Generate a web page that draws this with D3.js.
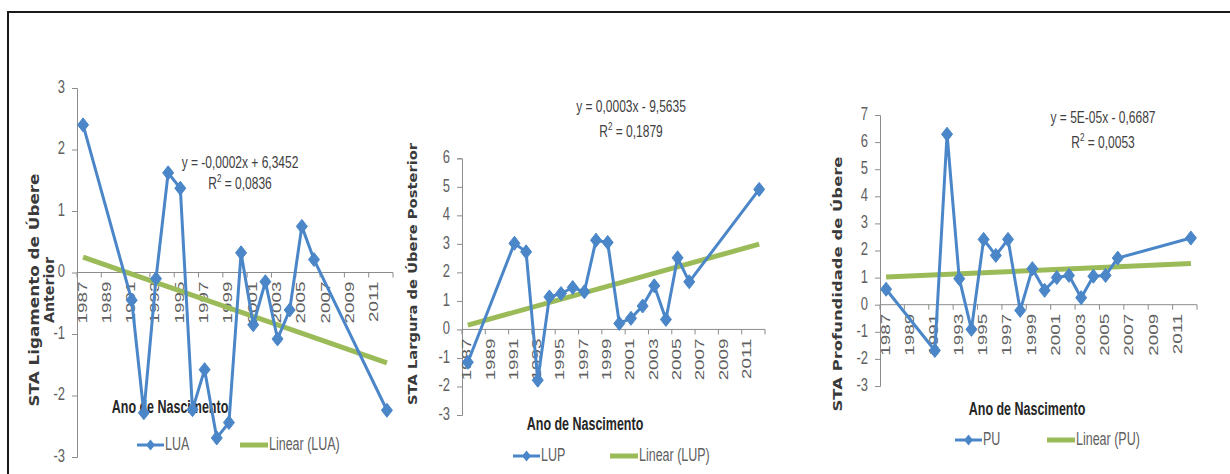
<!DOCTYPE html>
<html>
<head>
<meta charset="utf-8">
<script src="https://cdn.jsdelivr.net/npm/d3@7"></script>
<style>
  body { margin: 0; background: #fff; }
  svg { display: block; }
  .narrow { font-family: "Liberation Sans Narrow", "Arial Narrow", "Liberation Sans", sans-serif; }
</style>
</head>
<body>
<svg width="1230" height="474"></svg>
<script>
// categories (birth years) and tick labels
var years = [1987, 1988, 1989, 1990, 1991, 1992, 1993, 1994, 1995, 1996, 1997, 1998, 1999,
             2000, 2001, 2002, 2003, 2004, 2005, 2006, 2007, 2008, 2009, 2010, 2011, 2012];
var yearLabels = [1987, 1989, 1991, 1993, 1995, 1997, 1999, 2001, 2003, 2005, 2007, 2009, 2011];

// series values (null = no animal that year)
var LUA = [2.40, null, null, null, -0.45, -2.28, -0.10, 1.62, 1.37, -2.23, -1.58, -2.69, -2.44,
           0.32, -0.85, -0.15, -1.08, -0.61, 0.75, 0.21, null, null, null, null, null, -2.24];
var LUP = [-1.15, null, null, null, 3.02, 2.72, -1.78, 1.14, 1.26, 1.47, 1.32, 3.13, 3.05,
           0.21, 0.39, 0.82, 1.53, 0.35, 2.51, 1.67, null, null, null, null, null, 4.91];
var PU  = [0.57, null, null, null, -1.69, 6.29, 0.96, -0.91, 2.41, 1.82, 2.41, -0.21, 1.33,
           0.53, 1.00, 1.08, 0.26, 1.05, 1.08, 1.72, null, null, null, null, null, 2.46];

// linear trend values at first and last year
var trendYears = [1987, 2012];
var trendLUA = [0.25, -1.47];
var trendLUP = [0.15, 2.99];
var trendPU  = [1.02, 1.52];

var ticksLUA = [-3, -2, -1, 0, 1, 2, 3];
var ticksLUP = [-3, -2, -1, 0, 1, 2, 3, 4, 5, 6];
var ticksPU  = [-3, -2, -1, 0, 1, 2, 3, 4, 5, 6, 7];

var BLUE = '#4a86c8', GREEN = '#9bbb59', AXIS = '#8c8c8c', LABEL = '#606060';
var SY = 1.45; // picture is stretched vertically

var svg = d3.select('svg');

// frame
svg.append('path')
    .attr('d', 'M8,474 L8,12 L1230,12')
    .attr('fill', 'none')
    .attr('stroke', '#1a1a1a')
    .attr('stroke-width', 2);

function stretchedText(g, x, y, txt, size, rotate) {
    return g.append('text')
        .attr('class', 'narrow')
        .attr('transform', 'translate(' + x + ',' + y + ') scale(1,' + SY + ')' + (rotate ? ' rotate(-90)' : ''))
        .attr('font-size', size)
        .attr('fill', LABEL)
        .text(txt);
}

var diamond = 'M0,-7 L5.5,0 L0,7 L-5.5,0 Z';

function drawPanel(p) {
    var g = svg.append('g');

    var x = d3.scaleBand().domain(years).range([p.x0, p.x1]).padding(0);
    var y = d3.scaleLinear().domain([p.ticks[0], p.ticks[p.ticks.length - 1]]).range([p.yBottom, p.yTop]);

    // y axis
    var yAxis = d3.axisLeft(y).tickValues(p.ticks).tickSize(5).tickFormat('');
    var ya = g.append('g').attr('transform', 'translate(' + p.x0 + ',0)').call(yAxis);
    ya.selectAll('path, line').attr('stroke', AXIS);
    p.ticks.forEach(function(t) {
        stretchedText(g, p.x0 - 12, y(t), t, 13, false)
            .attr('text-anchor', 'end')
            .attr('dominant-baseline', 'middle');
    });

    // x axis on zero line, ticks between every second category
    var zeroY = y(0);
    g.append('line')
        .attr('x1', p.x0).attr('x2', p.x1)
        .attr('y1', zeroY).attr('y2', zeroY)
        .attr('stroke', AXIS);
    var tickYears = years.filter(function(d, i) { return i % 2 === 0; });
    g.selectAll('.xt').data(tickYears).enter().append('line')
        .attr('x1', function(d) { return x(d); })
        .attr('x2', function(d) { return x(d); })
        .attr('y1', zeroY).attr('y2', zeroY + 5)
        .attr('stroke', AXIS);
    g.append('line')
        .attr('x1', p.x1).attr('x2', p.x1)
        .attr('y1', zeroY).attr('y2', zeroY + 5)
        .attr('stroke', AXIS);
    yearLabels.forEach(function(yr) {
        stretchedText(g, x(yr) + x.bandwidth() / 2, zeroY + 9, yr, 13, true)
            .attr('text-anchor', 'end')
            .attr('dominant-baseline', 'middle');
    });

    // axis titles
    p.title.forEach(function(t) {
        g.append('text')
            .attr('transform', 'translate(' + t.x + ',' + t.y + ') rotate(-90)')
            .attr('text-anchor', 'middle')
            .attr('dominant-baseline', 'middle')
            .attr('font-family', 'DejaVu Sans')
            .attr('font-weight', 'bold')
            .attr('font-size', t.size)
            .attr('fill', '#3a3a3a')
            .attr('textLength', t.len)
            .attr('lengthAdjust', 'spacingAndGlyphs')
            .text(t.text);
    });
    stretchedText(g, p.xTitle[0], p.xTitle[1], 'Ano de Nascimento', 12.5, false)
        .attr('text-anchor', 'middle')
        .attr('dominant-baseline', 'middle')
        .attr('font-weight', 'bold')
        .attr('fill', '#262626');

    // trend line
    var trendData = trendYears.map(function(yr, i) { return { yr: yr, v: p.trend[i] }; });
    var line = d3.line()
        .x(function(d) { return x(d.yr) + x.bandwidth() / 2; })
        .y(function(d) { return y(d.v); });
    g.append('path')
        .datum(trendData)
        .attr('d', line)
        .attr('fill', 'none')
        .attr('stroke', GREEN)
        .attr('stroke-width', 5);

    // series line + markers (gaps are bridged)
    var pts = years.map(function(yr, i) { return { yr: yr, v: p.values[i] }; })
        .filter(function(d) { return d.v !== null; });
    g.append('path')
        .datum(pts)
        .attr('d', line)
        .attr('fill', 'none')
        .attr('stroke', BLUE)
        .attr('stroke-width', 3)
        .attr('stroke-linejoin', 'round');
    g.selectAll('.mk').data(pts).enter().append('path')
        .attr('d', diamond)
        .attr('transform', function(d) { return 'translate(' + (x(d.yr) + x.bandwidth() / 2) + ',' + y(d.v) + ')'; })
        .attr('fill', BLUE)
        .attr('stroke', BLUE)
        .attr('stroke-width', 1);

    // equation
    stretchedText(g, p.eq[0], p.eq[1], p.eqText, 12, false)
        .attr('text-anchor', 'middle')
        .attr('dominant-baseline', 'middle')
        .attr('fill', '#404040');
    var r2 = stretchedText(g, p.eq[0], p.eq[1] + p.eqGap, 'R', 12, false)
        .attr('text-anchor', 'middle')
        .attr('dominant-baseline', 'middle')
        .attr('fill', '#404040');
    r2.append('tspan').attr('font-size', 8).attr('dy', -4).text('2');
    r2.append('tspan').attr('dy', 4).text(' = ' + p.r2);

    // legend
    var lg = p.legend;
    g.append('line')
        .attr('x1', lg.x).attr('x2', lg.x + 27)
        .attr('y1', lg.y).attr('y2', lg.y)
        .attr('stroke', BLUE).attr('stroke-width', 3);
    g.append('path')
        .attr('d', diamond)
        .attr('transform', 'translate(' + (lg.x + 13.5) + ',' + lg.y + ') scale(0.8)')
        .attr('fill', BLUE);
    stretchedText(g, lg.x + 28, lg.y, p.name, 12.5, false)
        .attr('dominant-baseline', 'middle');
    g.append('line')
        .attr('x1', lg.x2).attr('x2', lg.x2 + 28)
        .attr('y1', lg.y).attr('y2', lg.y)
        .attr('stroke', GREEN).attr('stroke-width', 5);
    stretchedText(g, lg.x2 + 29, lg.y, 'Linear (' + p.name + ')', 12.5, false)
        .attr('dominant-baseline', 'middle');
}

drawPanel({
    name: 'LUA', values: LUA, trend: trendLUA, ticks: ticksLUA,
    x0: 77, x1: 393, yTop: 88, yBottom: 457,
    title: [{ text: 'STA Ligamento de Úbere', x: 35, y: 290, size: 13.5, len: 233 },
            { text: 'Anterior', x: 50, y: 290, size: 13.5, len: 66 }],
    xTitle: [170, 408],
    eq: [240, 163], eqGap: 21, eqText: 'y = -0,0002x + 6,3452', r2: '0,0836',
    legend: { x: 137, x2: 240, y: 445 }
});

drawPanel({
    name: 'LUP', values: LUP, trend: trendLUP, ticks: ticksLUP,
    x0: 462, x1: 765, yTop: 158.3, yBottom: 415,
    title: [{ text: 'STA Largura de Úbere Posterior', x: 413, y: 274, size: 12, len: 262 }],
    xTitle: [585, 425],
    eq: [631, 107], eqGap: 25, eqText: 'y = 0,0003x - 9,5635', r2: '0,1879',
    legend: { x: 513, x2: 610, y: 456 }
});

drawPanel({
    name: 'PU', values: PU, trend: trendPU, ticks: ticksPU,
    x0: 880, x1: 1197, yTop: 115, yBottom: 386,
    title: [{ text: 'STA Profundidade de Úbere', x: 838, y: 284, size: 12.5, len: 255 }],
    xTitle: [1027, 410],
    eq: [1103, 118], eqGap: 25, eqText: 'y = 5E-05x - 0,6687', r2: '0,0053',
    legend: { x: 955, x2: 1047, y: 440 }
});
</script>
</body>
</html>
